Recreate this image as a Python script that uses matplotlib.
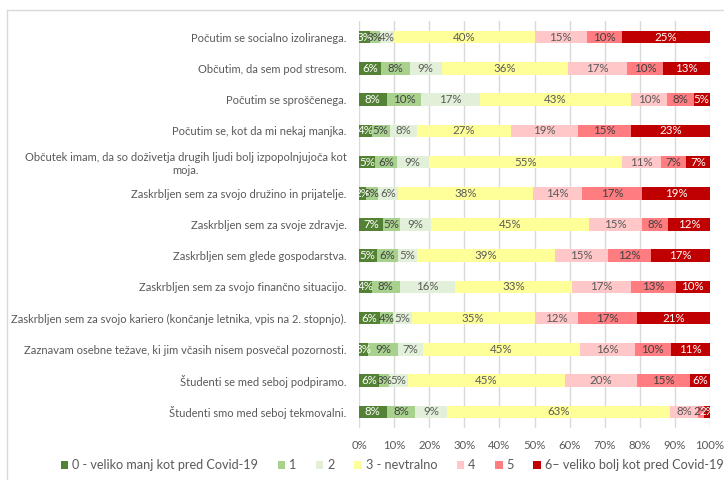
import numpy as np
import matplotlib
matplotlib.use("Agg")
import matplotlib.pyplot as plt
from matplotlib.lines import Line2D

# kategorije (od zgoraj navzdol)
categories = [
    "Počutim se socialno izoliranega.",
    "Občutim, da sem pod stresom.",
    "Počutim se sproščenega.",
    "Počutim se, kot da mi nekaj manjka.",
    "Občutek imam, da so doživetja drugih ljudi bolj izpopolnjujoča kot\nmoja.",
    "Zaskrbljen sem za svojo družino in prijatelje.",
    "Zaskrbljen sem za svoje zdravje.",
    "Zaskrbljen sem glede gospodarstva.",
    "Zaskrbljen sem za svojo finančno situacijo.",
    "Zaskrbljen sem za svojo kariero (končanje letnika, vpis na 2. stopnjo).",
    "Zaznavam osebne težave, ki jim včasih nisem posvečal pozornosti.",
    "Študenti se med seboj podpiramo.",
    "Študenti smo med seboj tekmovalni.",
]

# deleži odgovorov (%) po stopnjah
lvl0 = [3.0, 6.4, 7.9, 3.6, 4.6, 2.0, 6.9, 5.0, 3.6, 6.0, 2.6, 5.8, 7.9]
lvl1 = [3.0, 8.0, 9.8, 5.2, 6.1, 3.3, 4.8, 6.2, 8.1, 3.6, 8.6, 2.8, 8.1]
lvl2 = [4.0, 9.2, 16.8, 7.6, 9.2, 5.9, 8.7, 5.2, 15.7, 5.4, 6.9, 5.3, 9.1]
lvl3 = [40.0, 36.0, 43.0, 27.0, 54.9, 38.3, 45.2, 39.4, 33.2, 35.0, 44.9, 44.8, 63.4]
lvl4 = [15.0, 16.8, 10.2, 19.0, 11.2, 13.9, 14.9, 15.0, 16.9, 12.4, 15.6, 20.4, 8.2]
lvl5 = [10.0, 10.2, 7.6, 15.0, 7.2, 17.3, 7.6, 12.4, 12.7, 16.7, 10.2, 15.2, 1.7]
lvl6 = [25.0, 13.4, 4.7, 22.6, 6.8, 19.3, 11.9, 16.8, 9.8, 20.9, 11.2, 5.7, 1.6]

levels = ["0 - veliko manj kot pred Covid-19", "1", "2", "3 - nevtralno",
          "4", "5", "6– veliko bolj kot pred Covid-19"]
series = [lvl0, lvl1, lvl2, lvl3, lvl4, lvl5, lvl6]
colors = ["#548235", "#A9D18E", "#E2F0D9", "#FFFF99", "#FFC7C7", "#FF7C80", "#C00000"]
txt_colors = ["white", "#404040", "#595959", "#595959", "#595959", "#404040", "white"]

plt.rcParams['font.family'] = ['Lato', 'DejaVu Sans']

fig = plt.figure(figsize=(7.24, 4.8), dpi=100)
ax = fig.add_axes([359 / 724, 1 - 427.6 / 480, 351 / 724, 406.2 / 480])

y = np.arange(len(categories))
left = np.zeros(len(categories))
for name, vals, col, tc in zip(levels, series, colors, txt_colors):
    vals = np.array(vals)
    ax.barh(y, vals, left=left, height=0.4, color=col, label=name, zorder=3)
    for yi, l, v in zip(y, left, vals):
        ax.text(l + v / 2, yi, f"{v:.0f}%", ha="center", va="center",
                fontsize=8.3, color=tc, zorder=4)
    left += vals

ax.set_xlim(0, 100)
ax.set_ylim(len(categories) - 0.5, -0.5)
ax.set_yticks(y)
ax.set_yticklabels(categories, fontsize=8.0, color="#595959", multialignment="center")
ax.set_xticks(np.arange(0, 101, 10))
ax.set_xticklabels([f"{t}%" for t in range(0, 101, 10)], fontsize=8.2, color="#595959")
ax.tick_params(axis="both", length=0)
ax.tick_params(axis="y", pad=9)
ax.tick_params(axis="x", pad=9)
ax.grid(axis="x", color="#D9D9D9", linewidth=1, zorder=0)
for s in ax.spines.values():
    s.set_visible(False)

# okvir grafikona
fig.add_artist(Line2D([7 / 724, 7 / 724], [0, 1 - 10 / 480], color="#D9D9D9", lw=1,
                      transform=fig.transFigure))
fig.add_artist(Line2D([7 / 724, 1], [1 - 10 / 480, 1 - 10 / 480], color="#D9D9D9", lw=1,
                      transform=fig.transFigure))

fig.legend(loc="center", bbox_to_anchor=(392 / 724, 1 - 465 / 480), ncol=7,
           frameon=False, fontsize=9.1, handlelength=0.6, handleheight=0.6,
           handletextpad=0.3, columnspacing=1.55, labelcolor="#595959")

fig.savefig("out.png", dpi=100)
